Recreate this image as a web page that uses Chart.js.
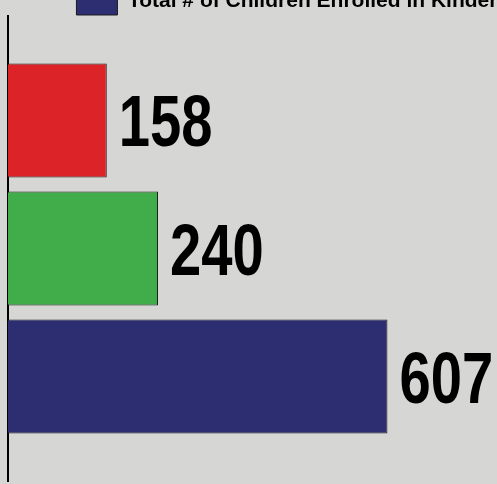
<!DOCTYPE html>
<html>
<head>
<meta charset="utf-8">
<script src="https://cdn.jsdelivr.net/npm/chart.js@4"></script>
<style>
  html, body { margin: 0; padding: 0; background: #d6d6d4; }
  #frame { position: relative; width: 497px; height: 484px; overflow: hidden; }
  #holder { position: absolute; left: 0; top: -23px; }
</style>
</head>
<body>
<div id="frame">
  <div id="holder"><canvas id="my-chart" width="630" height="507"></canvas></div>
</div>
<script>
// enrolment counts, one bar per series
const categories = ['Enrollment'];
const seriesNames = ['', '', 'Total # of Children Enrolled in Kindergarten'];
const seriesValues = [158, 240, 607];
const seriesColors = ['#dc2328', '#40ad4a', '#2d2d72'];

const sans = "'Liberation Sans', Arial, sans-serif";

// big bold numbers to the right of each bar, squeezed to look condensed
const valueLabels = {
    id: 'valueLabels',
    afterDatasetsDraw(chart) {
        const ctx = chart.ctx;
        chart.data.datasets.forEach((ds, i) => {
            const bar = chart.getDatasetMeta(i).data[0];
            ctx.save();
            ctx.translate(bar.x + 12, bar.y + 26);
            ctx.scale(0.78, 1);
            ctx.font = `bold 72px ${sans}`;
            ctx.fillStyle = '#000';
            ctx.textAlign = 'left';
            ctx.textBaseline = 'alphabetic';
            ctx.fillText(String(ds.data[0]), 0, 0);
            ctx.restore();
        });
    }
};

new Chart(document.getElementById('my-chart'), {
    type: 'bar',
    data: {
        labels: categories,
        datasets: seriesValues.map((v, i) => ({
            label: seriesNames[i],
            data: [v],
            backgroundColor: seriesColors[i],
            borderColor: '#1c1c1c',
            borderWidth: 1,
            borderSkipped: 'start',
            categoryPercentage: 0.826,
            barPercentage: 0.89
        }))
    },
    options: {
        indexAxis: 'y',
        responsive: false,
        animation: false,
        layout: { padding: { left: 8, right: 0, top: 0, bottom: 3 } },
        plugins: {
            tooltip: { enabled: false },
            legend: {
                position: 'top',
                maxHeight: 39,
                labels: {
                    boxWidth: 41,
                    boxHeight: 28,
                    padding: 10,
                    color: '#000',
                    font: { family: sans, size: 21, weight: 'bold' },
                    filter: (item) => item.text !== ''
                }
            }
        },
        scales: {
            x: { type: 'linear', min: 0, max: 995, display: false },
            y: {
                ticks: { display: false },
                grid: { display: false, drawTicks: false },
                border: { display: true, color: '#000', width: 2 }
            }
        }
    },
    plugins: [valueLabels]
});
</script>
</body>
</html>
